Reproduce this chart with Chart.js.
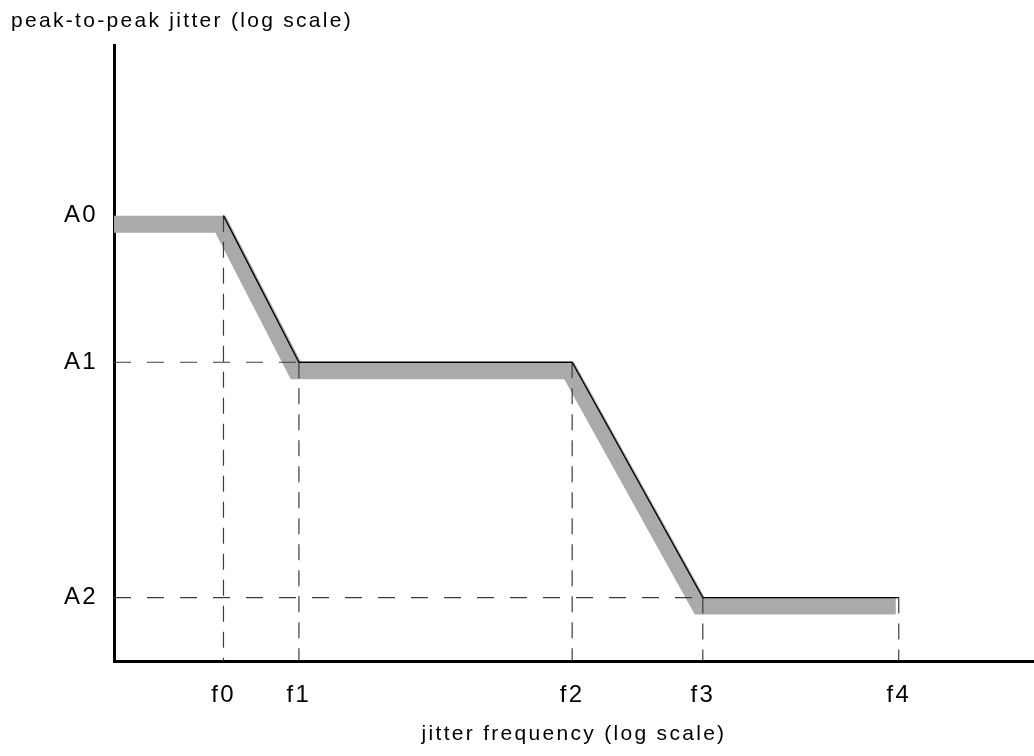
<!DOCTYPE html>
<html>
<head>
<meta charset="utf-8">
<script src="https://cdn.jsdelivr.net/npm/chart.js@4"></script>
<style>
  html, body { margin: 0; padding: 0; background: #fff; }
  canvas { display: block; }
</style>
</head>
<body>
<canvas id="myChart" width="1034" height="756"></canvas>
<script>
// corner frequencies and amplitudes (log units, schematic)
const freqLabels = ["f0", "f1", "f2", "f3", "f4"];
const freqValues = [1.19, 2.01, 4.98, 6.40, 8.53];
const ampLabels = ["A0", "A1", "A2"];
const ampValues = [7.23, 4.85, 1.03];

// tolerance mask breakpoints: start at the y axis, then each corner
const maskFreq = [0, 1.19, 2.01, 4.98, 6.40, 8.53];
const maskAmp = [7.23, 7.23, 4.85, 4.85, 1.03, 1.03];

const maskPoints = maskFreq.map((f, i) => ({ x: f, y: maskAmp[i] }));

// dashed guide lines
const guides = [];
freqValues.forEach((f, i) => {
  const y = maskAmp[i + 1];
  guides.push({
    data: [{ x: f, y: y }, { x: f, y: 0 }],
    borderColor: "#3c3c3c",
    borderWidth: 1.2,
    borderDash: [16, 10],
    pointRadius: 0,
    order: 1,
  });
});
// A1 to f1, A2 to f3
[[1, 1], [2, 3]].forEach(([a, f]) => {
  guides.push({
    data: [{ x: 0, y: ampValues[a] }, { x: freqValues[f], y: ampValues[a] }],
    borderColor: "#3c3c3c",
    borderWidth: 1.2,
    borderDash: [17, 16],
    pointRadius: 0,
    order: 1,
  });
});

const shadowShift = {
  id: "shadowShift",
  beforeDraw(chart) {
    chart.ctx.letterSpacing = "2.3px"; // chart title
  },
  afterDatasetsDraw(chart) {
    chart.ctx.letterSpacing = "3.2px"; // axis labels, drawn on top
  },
  beforeDatasetDraw(chart, args) {
    if (chart.data.datasets[args.index].label === "band") {
      const a = chart.chartArea;
      const ctx = chart.ctx;
      ctx.save();
      ctx.beginPath();
      ctx.rect(a.left, a.top - 20, a.right - a.left, a.bottom - a.top + 40);
      ctx.clip();
      ctx.translate(-3, 8.5);
    }
  },
  afterDatasetDraw(chart, args) {
    if (chart.data.datasets[args.index].label === "band") {
      chart.ctx.restore();
    }
  },
};

const data = {
  datasets: [
    {
      label: "mask",
      data: maskPoints.slice(1),
      borderColor: "#000",
      borderWidth: 1.3,
      pointRadius: 0,
      order: 0,
    },
    ...guides,
    {
      label: "band",
      data: maskPoints,
      borderColor: "#aaaaaa",
      borderWidth: 17,
      borderJoinStyle: "miter",
      borderCapStyle: "butt",
      pointRadius: 0,
      clip: false,
      order: 2,
    },
  ],
};

const fontFamily = "'Liberation Sans', Arial, sans-serif";
const tickFont = { family: fontFamily, size: 24 };

const config = {
  type: "line",
  data: data,
  options: {
    responsive: false,
    animation: false,
    layout: { padding: { left: 11, right: 0, top: 0, bottom: 0 } },
    plugins: {
      legend: { display: false },
      tooltip: { enabled: false },
      title: {
        display: true,
        text: "peak-to-peak jitter (log scale)",
        align: "start",
        color: "#000",
        font: { family: fontFamily, size: 21, weight: "normal" },
        padding: { top: 9, bottom: 10.8 },
      },
    },
    scales: {
      x: {
        type: "linear",
        min: 0,
        max: 10,
        z: 1,
        grid: { display: true, color: "transparent", drawTicks: false },
        border: { display: true, color: "#000", width: 3 },
        afterBuildTicks: (axis) => {
          axis.ticks = freqValues.map((v) => ({ value: v }));
        },
        afterFit: (axis) => { axis.height = 95; },
        ticks: {
          color: "#000",
          font: tickFont,
          padding: 20,
          autoSkip: false,
          maxRotation: 0,
          callback: (v) => freqLabels[freqValues.indexOf(v)],
        },
        title: {
          display: true,
          text: "jitter frequency (log scale)",
          color: "#000",
          font: { family: fontFamily, size: 21 },
          padding: { top: 4, bottom: 9 },
        },
      },
      y: {
        type: "linear",
        min: 0,
        max: 10,
        z: 1,
        grid: { display: true, color: "transparent", drawTicks: false },
        border: { display: true, color: "#000", width: 3 },
        afterBuildTicks: (axis) => {
          axis.ticks = ampValues.map((v) => ({ value: v }));
        },
        afterFit: (axis) => { axis.width = 103; },
        ticks: {
          color: "#000",
          font: tickFont,
          padding: 16,
          callback: (v) => ampLabels[ampValues.indexOf(v)],
        },
      },
    },
  },
  plugins: [shadowShift],
};

const myChart = new Chart(document.getElementById("myChart"), config);
</script>
</body>
</html>
